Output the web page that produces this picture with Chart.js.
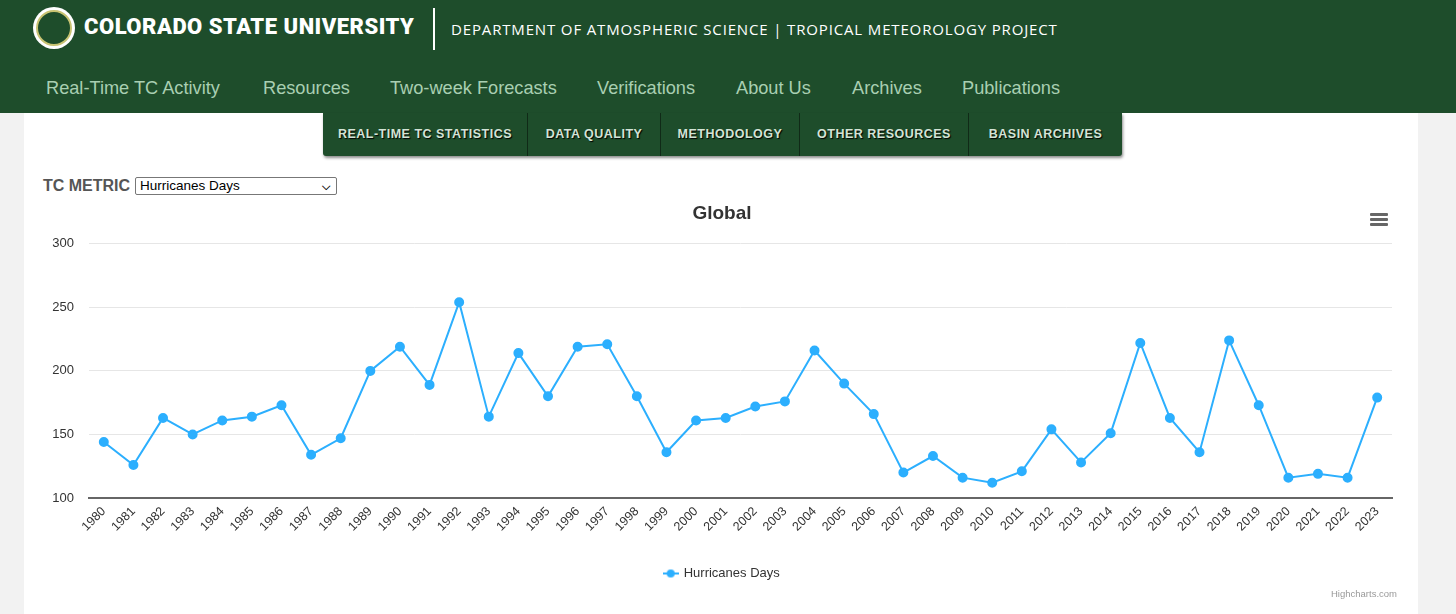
<!DOCTYPE html>
<html>
<head>
<meta charset="utf-8">
<script src="https://cdn.jsdelivr.net/npm/chart.js@4"></script>
<style>
  body { margin: 0; width: 1456px; height: 614px; background: #f2f2f2; font-family: "Liberation Sans", Arial, sans-serif; overflow: hidden; position: relative; }
  .top { position: absolute; left: 0; top: 0; width: 1456px; height: 113px; background: #1e4d2b; }
  .logo { position: absolute; left: 33px; top: 7px; width: 42px; height: 42px; border-radius: 50%; background: #fff; }
  .logo::after { content: ""; position: absolute; left: 3px; top: 3px; width: 32px; height: 32px; border-radius: 50%; background: #1e4d2b; border: 2px solid #c8c372; }
  .uni { position: absolute; left: 84px; top: 14px; color: #fff; font: 900 22px "Roboto", sans-serif; letter-spacing: 0.5px; }
  .bar { position: absolute; left: 433px; top: 8px; width: 2px; height: 42px; background: #fff; }
  .dept { position: absolute; left: 451px; top: 19px; color: #fff; font: 15px "Open Sans", sans-serif; letter-spacing: 0.85px; }
  .nav { position: absolute; top: 78px; color: #a9cfb2; font-size: 18.2px; }
  .panel { position: absolute; left: 24px; top: 113px; width: 1394px; height: 501px; background: #fff; }
  .tabs { position: absolute; left: 323px; top: 113px; height: 43px; display: flex; background: #1e4d2b; box-shadow: 1px 2px 3px rgba(0,0,0,0.45); border-radius: 0 0 3px 3px; }
  .tabs div { color: #d3e3d6; font: bold 12.5px "Liberation Sans", Arial, sans-serif; letter-spacing: 0.5px; line-height: 43px; text-align: center; border-right: 1px solid #102a17; text-shadow: 1px 1px 1px #000; }
  .tabs div:last-child { border-right: none; }
  .metric { position: absolute; left: 43px; top: 177px; color: #555; font: bold 16px "Liberation Sans", Arial, sans-serif; }
  .sel { position: absolute; left: 135px; top: 177px; width: 196px; height: 16px; border: 1px solid #777; border-radius: 2px; font: 13.5px "Liberation Sans", Arial, sans-serif; color: #000; line-height: 16px; padding-left: 4px; box-sizing: content-box; }
  .sel span { position: absolute; right: 6px; top: 0; font-size: 11px; font-weight: bold; }
  .menu { position: absolute; left: 1370px; top: 213px; width: 18px; }
  .menu i { display: block; height: 3px; background: #666; margin-bottom: 2px; border-radius: 1px; }
  .wrap { position: absolute; left: 30px; top: 196px; width: 1384px; height: 408px; }
  .credit { position: absolute; left: 1331px; top: 588px; font-size: 9.5px; color: #999; }
</style>
</head>
<body>
<div class="top">
  <div class="logo"></div>
  <div class="uni">COLORADO STATE UNIVERSITY</div>
  <div class="bar"></div>
  <div class="dept">DEPARTMENT OF ATMOSPHERIC SCIENCE | TROPICAL METEOROLOGY PROJECT</div>
  <div class="nav" style="left:46px">Real-Time TC Activity</div>
  <div class="nav" style="left:263px">Resources</div>
  <div class="nav" style="left:390px">Two-week Forecasts</div>
  <div class="nav" style="left:597px">Verifications</div>
  <div class="nav" style="left:736px">About Us</div>
  <div class="nav" style="left:852px">Archives</div>
  <div class="nav" style="left:962px">Publications</div>
</div>
<div class="panel"></div>
<div class="tabs">
  <div style="width:204px">REAL-TIME TC STATISTICS</div>
  <div style="width:132px">DATA QUALITY</div>
  <div style="width:138px">METHODOLOGY</div>
  <div style="width:168px">OTHER RESOURCES</div>
  <div style="width:153px">BASIN ARCHIVES</div>
</div>
<div class="metric">TC METRIC</div>
<div class="sel">Hurricanes Days<span>&#x2335;</span></div>
<div class="wrap"><canvas id="grafico"></canvas></div>
<div class="menu"><i></i><i></i><i></i></div>
<div class="credit">Highcharts.com</div>
<script>
const anos = ["1980", "1981", "1982", "1983", "1984", "1985", "1986", "1987", "1988", "1989",
  "1990", "1991", "1992", "1993", "1994", "1995", "1996", "1997", "1998", "1999",
  "2000", "2001", "2002", "2003", "2004", "2005", "2006", "2007", "2008", "2009",
  "2010", "2011", "2012", "2013", "2014", "2015", "2016", "2017", "2018", "2019",
  "2020", "2021", "2022", "2023"];
const diasFuracao = [144, 126, 163, 150, 161, 164, 173, 134, 147, 200,
  219, 189, 254, 164, 214, 180, 219, 221, 180, 136,
  161, 163, 172, 176, 216, 190, 166, 120, 133, 116,
  112, 121, 154, 128, 151, 222, 163, 136, 224, 173,
  116, 119, 116, 179];
const ticksY = [100, 150, 200, 250, 300];

const azul = "#2caffe";

// simbolo da legenda: linha com bolinha
const simbolo = document.createElement("canvas");
simbolo.width = 16;
simbolo.height = 10;
const sctx = simbolo.getContext("2d");
sctx.strokeStyle = azul;
sctx.lineWidth = 2;
sctx.beginPath();
sctx.moveTo(0, 5);
sctx.lineTo(16, 5);
sctx.stroke();
sctx.fillStyle = azul;
sctx.beginPath();
sctx.arc(8, 5, 4, 0, Math.PI * 2);
sctx.fill();

const ctx = document.getElementById("grafico").getContext("2d");
new Chart(ctx, {
  type: "line",
  data: {
    labels: anos,
    datasets: [
      {
        label: "Hurricanes Days",
        data: diasFuracao,
        borderColor: azul,
        backgroundColor: azul,
        borderWidth: 2,
        pointRadius: 4,
        pointHoverRadius: 5,
        pointStyle: "circle",
        tension: 0,
      },
    ],
  },
  options: {
    responsive: true,
    maintainAspectRatio: false,
    animation: false,
    layout: { padding: { left: 0, right: 0, top: 0, bottom: 14 } },
    plugins: {
      title: {
        display: true,
        text: "Global",
        color: "#333",
        font: { family: "Liberation Sans", size: 19, weight: "bold" },
        padding: { top: 6, bottom: 19 },
      },
      legend: {
        position: "bottom",
        labels: {
          usePointStyle: true,
          pointStyle: simbolo,
          color: "#333",
          font: { family: "Liberation Sans", size: 13 },
          padding: 10,
          generateLabels: (chart) => [{
            text: chart.data.datasets[0].label,
            pointStyle: simbolo,
            fontColor: "#333",
            datasetIndex: 0,
          }],
        },
      },
      tooltip: { enabled: false },
    },
    scales: {
      x: {
        offset: true,
        grid: { display: false, drawTicks: false },
        border: { color: "#666", width: 2 },
        ticks: {
          color: "#333",
          font: { family: "Liberation Sans", size: 12.5 },
          minRotation: 45,
          maxRotation: 45,
          autoSkip: false,
          padding: 6,
        },
        afterFit: (s) => { s.height = 59; },
      },
      y: {
        min: ticksY[0],
        max: ticksY[ticksY.length - 1],
        afterBuildTicks: (s) => { s.ticks = ticksY.map((v) => ({ value: v })); },
        grid: { color: "#e6e6e6", drawTicks: false },
        border: { display: false },
        ticks: {
          color: "#333",
          font: { family: "Liberation Sans", size: 13 },
          padding: 15,
        },
        afterFit: (s) => { s.width = 59; },
      },
      // margem direita do grafico, sem marcas
      margem: {
        position: "right",
        grid: { display: false, drawTicks: false },
        border: { display: false },
        ticks: { display: false },
        afterFit: (s) => { s.width = 22; },
      },
    },
  },
});
</script>
</body>
</html>
